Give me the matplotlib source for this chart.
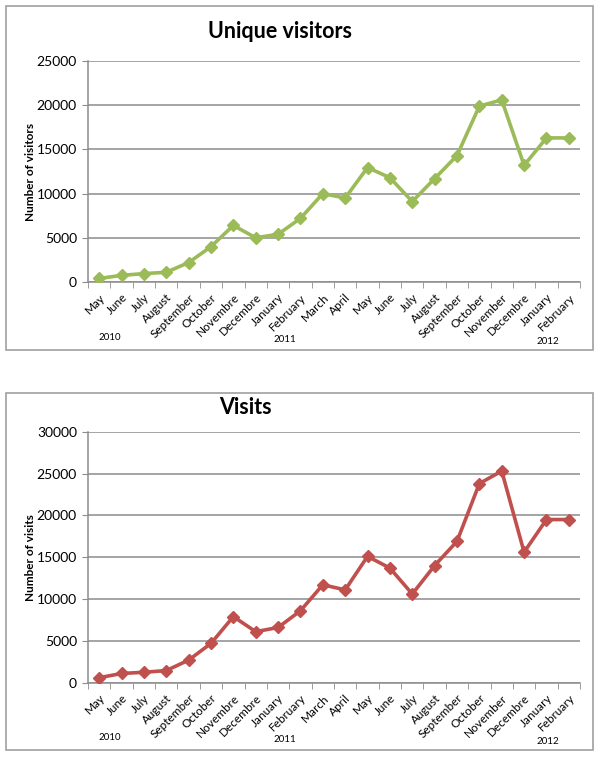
import matplotlib.pyplot as plt
from matplotlib.patches import Rectangle
from matplotlib.ticker import FixedLocator

# ----------------------------------------------------------------------
# Data
# ----------------------------------------------------------------------
months = ['May', 'June', 'July', 'August', 'September', 'October', 'Novembre',
          'Decembre', 'January', 'February', 'March', 'April', 'May', 'June',
          'July', 'August', 'September', 'October', 'November', 'Decembre',
          'January', 'February']
unique_visitors = [400, 750, 950, 1100, 2200, 4000, 6400, 5000, 5400, 7200,
                   10000, 9500, 12950, 11800, 9100, 11700, 14300, 19900,
                   20600, 13200, 16300, 16300]
visits = [600, 1100, 1250, 1450, 2700, 4700, 7900, 6100, 6600, 8600,
          11700, 11100, 15100, 13700, 10600, 14000, 16900, 23800,
          25300, 15600, 19500, 19500]
years = ['2010', '2011', '2012']
year_x = [110, 285, 548]  # label positions in pixels

plt.rcParams['font.family'] = ['Lato', 'DejaVu Sans']

W, H = 600, 758
fig = plt.figure(figsize=(W / 100, H / 100), dpi=100)


def px(x0, y0, x1, y1):
    # pixel box (top-left origin) -> figure fraction rect
    return [x0 / W, 1 - y1 / H, (x1 - x0) / W, (y1 - y0) / H]


def panel(box, axbox, values, color, title, title_x, title_y, ylabel,
          ymax, year_y):
    fig.patches.append(Rectangle((box[0], box[1]), box[2], box[3],
                                 transform=fig.transFigure, fill=False,
                                 edgecolor='#a0a0a0', lw=1.2))
    ax = fig.add_axes(axbox)
    x = list(range(len(values)))
    ax.plot(x, values, color=color, lw=2.6, marker='D', ms=6.5,
            markeredgecolor=color, zorder=3)
    ax.set_xlim(-0.5, len(values) - 0.5)
    ax.set_ylim(0, ymax)
    ax.set_yticks(range(0, ymax + 1, 5000))
    ax.yaxis.grid(True, color='#8c8c8c', lw=1.1)
    ax.set_axisbelow(True)
    for s in ['top', 'right']:
        ax.spines[s].set_visible(False)
    ax.spines['left'].set_color('#8c8c8c')
    ax.spines['bottom'].set_color('#8c8c8c')
    ax.spines['left'].set_linewidth(1.1)
    ax.spines['bottom'].set_linewidth(1.1)
    ax.set_xticks(x)
    ax.set_xticklabels(months, rotation=45, ha='right',
                       rotation_mode='anchor', fontsize=8.5)
    ax.tick_params(axis='x', which='major', length=0, pad=7)
    ax.xaxis.set_minor_locator(FixedLocator([i - 0.5 for i in range(len(values) + 1)]))
    ax.tick_params(axis='x', which='minor', length=4, color='#8c8c8c',
                   direction='out')
    ax.tick_params(axis='y', length=4, color='#8c8c8c', labelsize=10, pad=4)
    ax.set_ylabel(ylabel, fontsize=8.5, fontweight='bold')
    ax.yaxis.set_label_coords((36 - 88) / 492, 0.5)
    fig.text(title_x / W, 1 - title_y / H, title, fontsize=15.5,
             fontweight='bold', ha='center', va='center')
    for yr, xp, yp in zip(years, year_x, year_y):
        fig.text(xp / W, 1 - yp / H, yr, fontsize=7, ha='center', va='center')
    return ax


panel(px(6, 6, 593, 350), px(88, 61, 580, 282), unique_visitors, '#9bbb59',
      'Unique visitors', 280, 32, 'Number of visitors', 25000,
      [338, 340, 342])
panel(px(6, 393, 593, 750), px(88, 431.7, 580, 682.7), visits, '#c0504d',
      'Visits', 245, 407, 'Number of visits', 30000,
      [737, 739, 741])

fig.savefig('out.png', dpi=100)
